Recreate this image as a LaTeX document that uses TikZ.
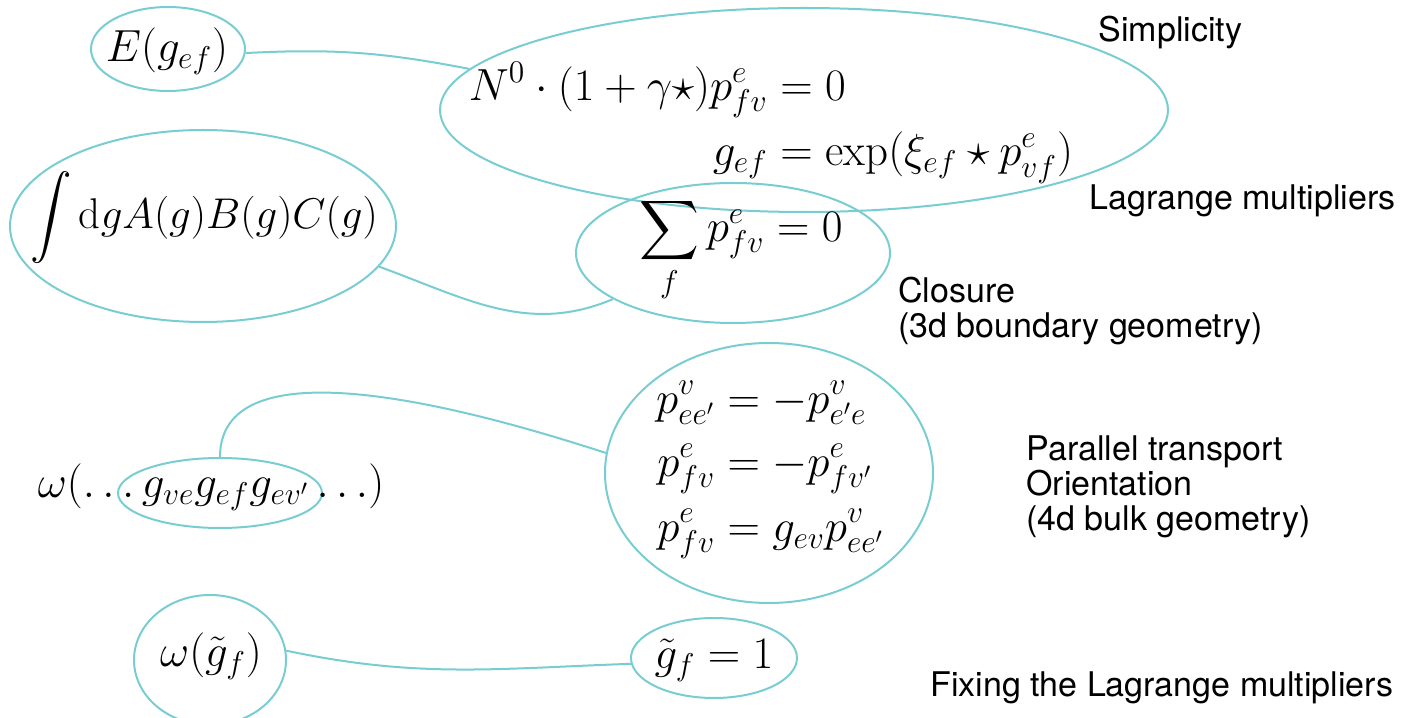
\RequirePackage{fix-cm}
\documentclass[tikz,border=0pt]{standalone}
\usepackage{amsmath}
\usepackage{fontspec}
\usetikzlibrary{shapes.geometric}
\newfontfamily\labelfont{TeX Gyre Heros}
\definecolor{linkcolor}{HTML}{78CDD3}
\tikzset{
    bubble/.style 2 args={
        ellipse, draw=linkcolor, line width=1pt,
        inner sep=0pt, minimum width=#1, minimum height=#2
    },
    formula/.style={
        inner sep=0pt, font=\fontsize{22.5}{28.5}\selectfont
    },
    note/.style={
        inner sep=0pt, align=left,
        font=\labelfont\fontsize{17}{17.5}\selectfont
    },
    link/.style={
        draw=linkcolor, line width=1pt
    },
}

\begin{document}
\begin{tikzpicture}[x=0.5pt, y=0.5pt]
    \useasboundingbox (0,0) rectangle (1405,718);

    % Bubbles
    \node[bubble={77pt}{42pt}] (eb) at (168,669) {};
    \node[bubble={364pt}{102pt}] (simpb) at (804,608) {};
    \node[bubble={193pt}{96pt}] (intb) at (203,492) {};
    \node[bubble={157pt}{70pt}] (closb) at (733,465) {};
    \node[bubble={164pt}{130pt}] (transb) at (769,245) {};
    \node[bubble={102pt}{35pt}] (holb) at (220,225) {};
    \node[bubble={76pt}{65pt}] (omb) at (210,58) {};
    \node[bubble={83pt}{40pt}] (fixb) at (714,60) {};

    % Formulas
    \node[formula] (etxt) at (167,667) {$E(g_{ef})$};
    \node[formula] (simptxt) at (771,596) {$\begin{aligned}
        N^0\cdot(1+\gamma\star)p^e_{fv} &= 0\\
        g_{ef} &= \exp(\xi_{ef}\star p^e_{vf})
    \end{aligned}$};
    \node[formula, font=\fontsize{21.5}{27}\selectfont] (inttxt) at (204,500) {$\displaystyle\int \mathrm{d}g A(g)B(g)C(g)$};
    \node[formula] (clostxt) at (741,468) {$\displaystyle\sum_f p^e_{fv} = 0$};
    \node[formula] (transtxt) at (770,252) {$\begin{aligned}
        p^v_{ee'} &= -p^v_{e'e}\\
        p^e_{fv} &= -p^e_{fv'}\\
        p^e_{fv} &= g_{ev}p^v_{ee'}
    \end{aligned}$};
    \node[formula] (holtxt) at (211,231) {$\omega(\ldots g_{ve}g_{ef}g_{ev'}\ldots)$};
    \node[formula] (omtxt) at (211,62) {$\omega(\tilde{g}_f)$};
    \node[formula] (fixtxt) at (714,58) {$\tilde{g}_f = 1$};

    % Notes
    \node[note, anchor=base west] (simpnote) at (1098,676) {Simplicity};
    \node[note, anchor=base west] (lagnote) at (1089,508) {Lagrange multipliers};
    \node[note, anchor=north west] (closnote) at (898,441) {Closure\\(3d boundary geometry)};
    \node[note, anchor=north west] (transnote) at (1026,283) {Parallel transport\\Orientation\\(4d bulk geometry)};
    \node[note, anchor=base west] (fixnote) at (930,21) {Fixing the Lagrange multipliers};

    % Links
    \draw[link] (eb.-3) to[out=3, in=169] (simpb.173);
    \draw[link] (intb.-13) to[out=-20, in=203] (closb.201);
    \draw[link] (holb.north) to[out=90, in=162, looseness=0.8] (transb.173);
    \draw[link] (omb.7) to[out=-12, in=182] (fixb.184);

\end{tikzpicture}
\end{document}
